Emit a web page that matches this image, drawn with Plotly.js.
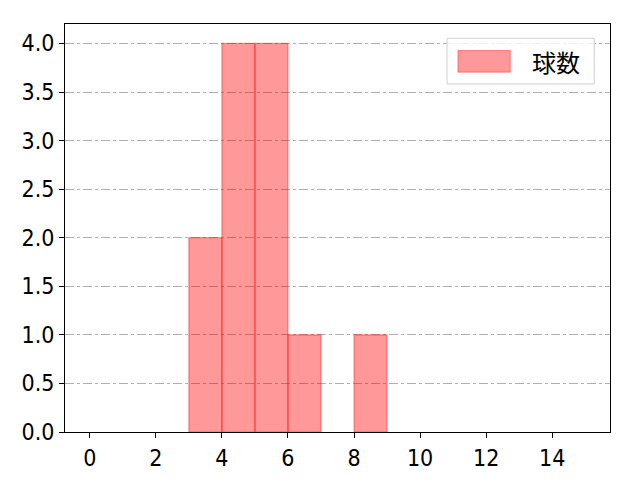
<!DOCTYPE html>
<html>
<head>
<meta charset="utf-8">
<script src="https://cdn.plot.ly/plotly-3.0.1.min.js"></script>
<style>
  html, body { margin: 0; padding: 0; background: #fff; }
  #chart { width: 640px; height: 480px; }
</style>
</head>
<body>
<div id="chart"></div>
<script>
  /* Histogram bins: left edge of each bin and its count */
  var binLeft = [3, 4, 5, 6, 8];
  var counts = [2, 4, 4, 1, 1];
  var seriesName = '球数';

  var xTicks = [0, 2, 4, 6, 8, 10, 12, 14];
  var yTicks = [0, 0.5, 1, 1.5, 2, 2.5, 3, 3.5, 4];

  var FONT = '"Noto Sans CJK JP", "DejaVu Sans", sans-serif';
  var TICKFONT = '"DejaVu Sans Condensed", "DejaVu Sans", sans-serif';

  var bars = {
    type: 'bar',
    x: binLeft,
    y: counts,
    width: 1,
    offset: 0,
    name: seriesName,
    marker: {
      color: 'rgba(255,0,0,0.4)',
      line: { color: 'rgba(255,0,0,0.4)', width: 1.2 }
    },
    showlegend: false,
    hoverinfo: 'x+y'
  };

  /* Legend drawn by hand so the swatch keeps matplotlib proportions */
  var shapes = [
    {
      type: 'rect', xref: 'paper', yref: 'paper', layer: 'above',
      x0: 0.701, x1: 0.971, y0: 0.853, y1: 0.965,
      fillcolor: 'rgba(255,255,255,0.8)',
      line: { color: '#d0d0d0', width: 1 }
    },
    {
      type: 'rect', xref: 'paper', yref: 'paper', layer: 'above',
      x0: 0.721, x1: 0.817, y0: 0.882, y1: 0.935,
      fillcolor: 'rgba(255,0,0,0.4)',
      line: { color: 'rgba(255,0,0,0.4)', width: 1 }
    }
  ];

  var annotations = [
    {
      xref: 'paper', yref: 'paper',
      x: 0.853, y: 0.909, xanchor: 'left', yanchor: 'middle',
      text: seriesName, showarrow: false,
      font: { family: FONT, size: 24, color: '#000' }
    }
  ];

  var layout = {
    width: 640,
    height: 480,
    margin: { l: 65, r: 30, t: 24, b: 48 },
    paper_bgcolor: '#fff',
    plot_bgcolor: '#fff',
    font: { family: FONT, size: 20, color: '#000' },
    bargap: 0,
    xaxis: {
      range: [-0.75, 15.75],
      tickvals: xTicks,
      ticks: 'outside', ticklen: 5, tickwidth: 1, tickcolor: '#000',
      showgrid: false, zeroline: false,
      showline: true, linecolor: '#000', linewidth: 1, mirror: true,
      tickfont: { family: TICKFONT, size: 23, color: '#000' },
      fixedrange: true
    },
    yaxis: {
      range: [0, 4.2],
      tickvals: yTicks,
      tickformat: '.1f',
      ticks: 'outside', ticklen: 5, tickwidth: 1, tickcolor: '#000',
      showgrid: true, gridcolor: '#b0b0b0', gridwidth: 1, griddash: 'dashdot',
      zeroline: false,
      showline: true, linecolor: '#000', linewidth: 1, mirror: true,
      tickfont: { family: TICKFONT, size: 23, color: '#000' },
      fixedrange: true
    },
    shapes: shapes,
    annotations: annotations,
    showlegend: false
  };

  Plotly.newPlot('chart', [bars], layout, { displayModeBar: false, staticPlot: true });
</script>
</body>
</html>
